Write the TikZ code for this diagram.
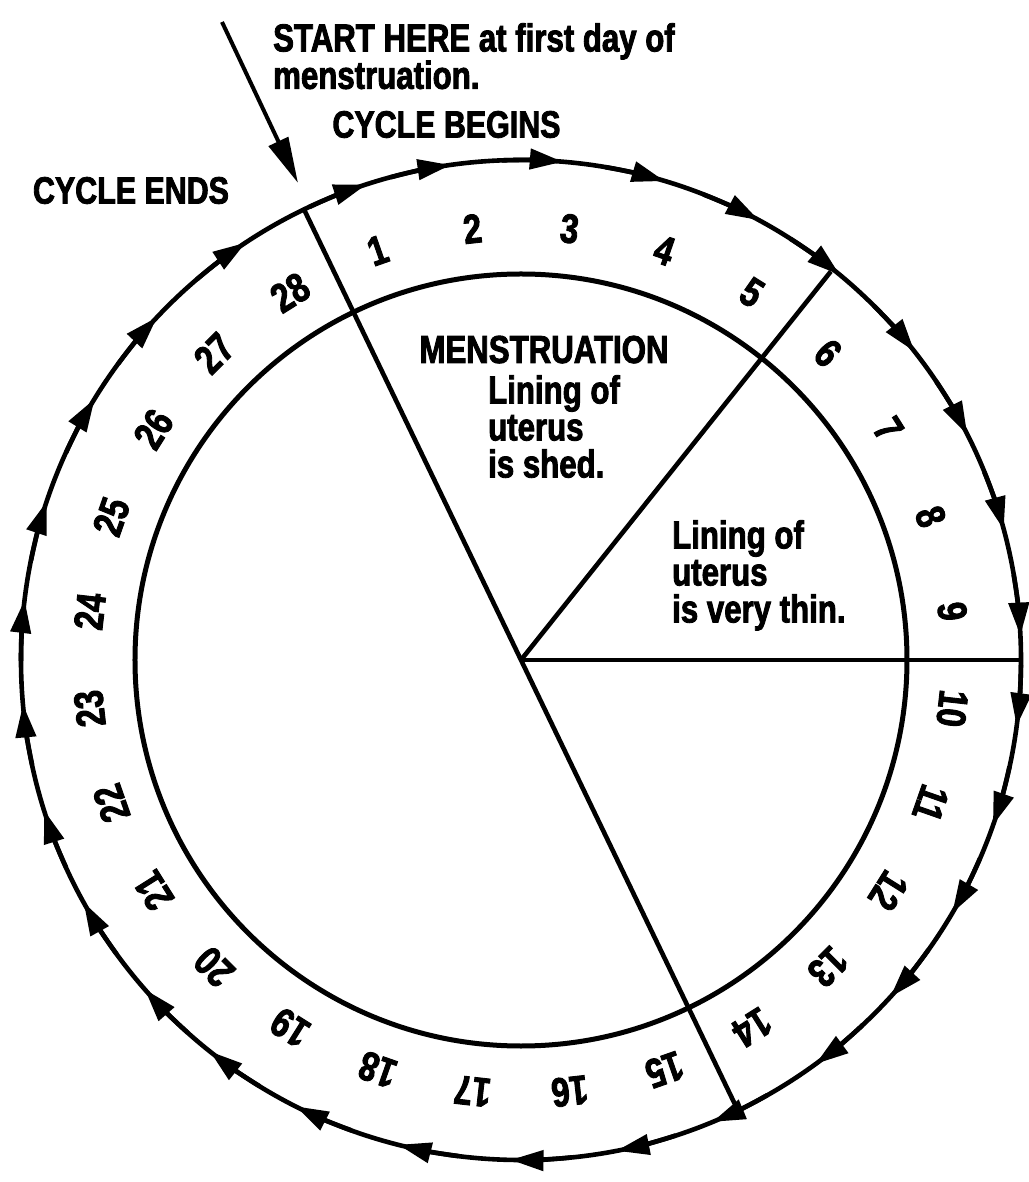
\documentclass[tikz,border=0pt]{standalone}
\usepackage{fontspec}
\setmainfont{Liberation Sans}[FakeStretch=0.80,BoldFeatures={FakeBold=2.2}]
\usetikzlibrary{arrows.meta}
\begin{document}
\begin{tikzpicture}[x=1pt,y=1pt,
  ringline/.style={line width=4.6pt},
  innerline/.style={line width=5pt},
  spoke/.style={line width=4.6pt},
  ringtip/.style={line width=4.6pt,-{Triangle[length=33pt,width=20pt]}},
  daynum/.style={font=\bfseries\fontsize{41pt}{41pt}\selectfont,inner sep=0pt},
  caption/.style={font=\bfseries\fontsize{39pt}{32pt}\selectfont,inner sep=0pt,align=left},
  capcaption/.style={font=\bfseries\fontsize{38pt}{32pt}\selectfont,inner sep=0pt},
  inner/.style={font=\bfseries\fontsize{39pt}{37pt}\selectfont,inner sep=0pt,align=left},
  starttip/.style={line width=4pt,-{Triangle[length=46pt,width=21pt]}}
]
\useasboundingbox (-521,-522) rectangle (507,660);
% circles
\draw[ringline] (0,0) circle[radius=500pt];
\draw[innerline] (0,0) circle[radius=386pt];
% spokes
\coordinate (c) at (0,0);
\coordinate (p0) at (115.714:500);
\coordinate (p15) at (-64.286:500);
\coordinate (p5) at (51.43:497);
\coordinate (p9) at (0:500);
\draw[spoke] (p0) -- (p15);
\draw[spoke] (c) -- (p5);
\draw[spoke] (c) -- (p9);
% ring arrows
\foreach \a in {124.9,109.5,99.6,86.7,74.8,63.1,51.9,39.6,28.3,16.6,4.3,-6.1,-17.8,-28.9,-40.9,-52.4,-66.0,-77.5,-89.7,-102.7,-115.3,-127,-137.3,-149.5,-161,-173.4,-185.4,-197,-210,-221.8}{
  \draw[ringtip] (\a+5.5:500) arc[start angle=\a+5.5, end angle=\a-1.5, radius=500pt];
}
% day numbers
\foreach \d in {1,...,28}{
  \pgfmathsetmacro\ang{115.714-(\d-0.5)*12.857}
  \node[daynum,rotate=\ang-90] (n\d) at (\ang:434) {\d};
}
% captions
\node[caption,anchor=north west] (start) at (-248,637) {START HERE at first day of\\menstruation.};
\coordinate (st) at (-299,638);
\coordinate (sp) at (-223,477);
\draw[starttip] (st) -- (sp);
\node[capcaption] (begins) at (-74.5,535.5) {CYCLE BEGINS};
\node[capcaption] (ends) at (-390,469.5) {CYCLE ENDS};
\node[inner,anchor=base] (mens) at (23,297) {MENSTRUATION};
\node[inner,anchor=north west] (shed) at (-33,285) {Lining of\\uterus\\is shed.};
\node[inner,anchor=north west] (thin) at (151,140) {Lining of\\uterus\\is very thin.};
\end{tikzpicture}
\end{document}
